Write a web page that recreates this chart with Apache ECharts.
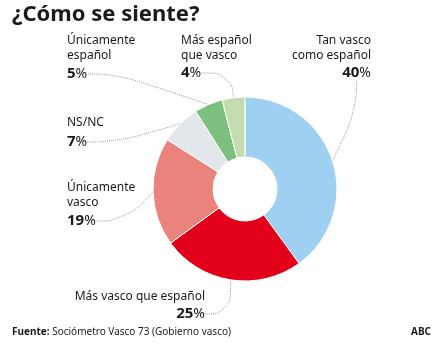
<!DOCTYPE html>
<html>
<head>
<meta charset="utf-8">
<script src="https://cdn.jsdelivr.net/npm/echarts@6/dist/echarts.min.js"></script>
<style>
  html, body { margin: 0; padding: 0; background: #fff; }
  #chart { width: 441px; height: 349px; }
</style>
</head>
<body>
<div id="chart"></div>
<script>
// Survey answers, clockwise from 12 o'clock
const categories = ['Tan vasco como español', 'Más vasco que español', 'Únicamente vasco', 'NS/NC', 'Únicamente español', 'Más español que vasco'];
const nameLines = [['Tan vasco', 'como español'], ['Más vasco que español'], ['Únicamente', 'vasco'], ['NS/NC'], ['Únicamente', 'español'], ['Más español', 'que vasco']];
const values = [40, 25, 19, 7, 5, 4];

const titleText = '¿Cómo se siente?';
const sourceLabel = 'Fuente:';
const sourceText = 'Sociómetro Vasco 73 (Gobierno vasco)';
const brandText = 'ABC';

// Styling
const colors = ['#9fd0f1', '#e2001a', '#ea837c', '#e3e7ec', '#7dbf7f', '#c4ddb0'];
const FONT = '"Noto Sans", sans-serif';

// Where each annotation block sits: name block (top anchored) and percentage line
const nameSpots = [
  { x: 371, y: 33, align: 'right' },
  { x: 205, y: 289, align: 'right' },
  { x: 67, y: 180, align: 'left' },
  { x: 67, y: 115, align: 'left' },
  { x: 67, y: 33, align: 'left' },
  { x: 181, y: 33, align: 'left' }
];
const pctSpots = [
  { x: 371, y: 73, align: 'right' },
  { x: 205, y: 314, align: 'right' },
  { x: 67, y: 221, align: 'left' },
  { x: 67, y: 142, align: 'left' },
  { x: 67, y: 74, align: 'left' },
  { x: 181, y: 73, align: 'left' }
];

const pieData = categories.map((name, i) => ({
  name: name,
  value: values[i],
  itemStyle: { color: colors[i] }
}));

const chart = echarts.init(document.getElementById('chart'), null, { renderer: 'canvas' });

chart.setOption({
  animation: false,
  title: [
    {
      text: titleText,
      left: 12, top: 4, padding: 0,
      textStyle: { fontFamily: FONT, fontSize: 22, fontWeight: 'bold', color: '#1a1a1a' }
    },
    {
      text: '{b|' + sourceLabel + '} ' + sourceText,
      left: 12, top: 327, padding: 0,
      textStyle: {
        fontFamily: FONT, fontSize: 10, fontWeight: 'normal', color: '#1a1a1a',
        rich: { b: { fontFamily: FONT, fontSize: 10, fontWeight: 'bold', color: '#1a1a1a' } }
      }
    },
    {
      text: brandText,
      right: 10, top: 327, padding: 0,
      textStyle: { fontFamily: FONT, fontSize: 10, fontWeight: 'bold', color: '#1a1a1a' }
    }
  ],
  series: [
    {
      // the donut, with percentage labels and dotted leader lines
      type: 'pie',
      center: [245, 189],
      radius: [32, 92],
      startAngle: 90,
      clockwise: true,
      avoidLabelOverlap: false,
      silent: true,
      emphasis: { disabled: true },
      itemStyle: { borderColor: '#fff', borderWidth: 1 },
      label: {
        show: true,
        position: 'outside',
        formatter: p => '{n|' + p.value + '}{p|%}',
        rich: {
          n: { fontFamily: FONT, fontSize: 15, fontWeight: 'bold', color: '#1a1a1a' },
          p: { fontFamily: FONT, fontSize: 14, color: '#1a1a1a' }
        }
      },
      labelLine: {
        show: true,
        length: 10,
        length2: 30,
        smooth: 0.5,
        lineStyle: { color: '#9a9a9a', width: 1, type: 'dotted' }
      },
      labelLayout: p => {
        const s = pctSpots[p.dataIndex];
        return { x: s.x, y: s.y, align: s.align, verticalAlign: 'middle' };
      },
      data: pieData
    },
    {
      // same slices, invisible, carrying the category names
      type: 'pie',
      center: [245, 189],
      radius: [32, 92],
      startAngle: 90,
      clockwise: true,
      avoidLabelOverlap: false,
      silent: true,
      emphasis: { disabled: true },
      itemStyle: { color: 'rgba(0,0,0,0)', borderWidth: 0 },
      label: {
        show: true,
        position: 'outside',
        formatter: p => nameLines[p.dataIndex].join('\n'),
        fontFamily: FONT,
        fontSize: 12,
        lineHeight: 15,
        color: '#1a1a1a'
      },
      labelLine: { show: false },
      labelLayout: p => {
        const s = nameSpots[p.dataIndex];
        return { x: s.x, y: s.y, align: s.align, verticalAlign: 'top' };
      },
      data: categories.map((name, i) => ({ name: name, value: values[i] }))
    }
  ]
});
</script>
</body>
</html>
